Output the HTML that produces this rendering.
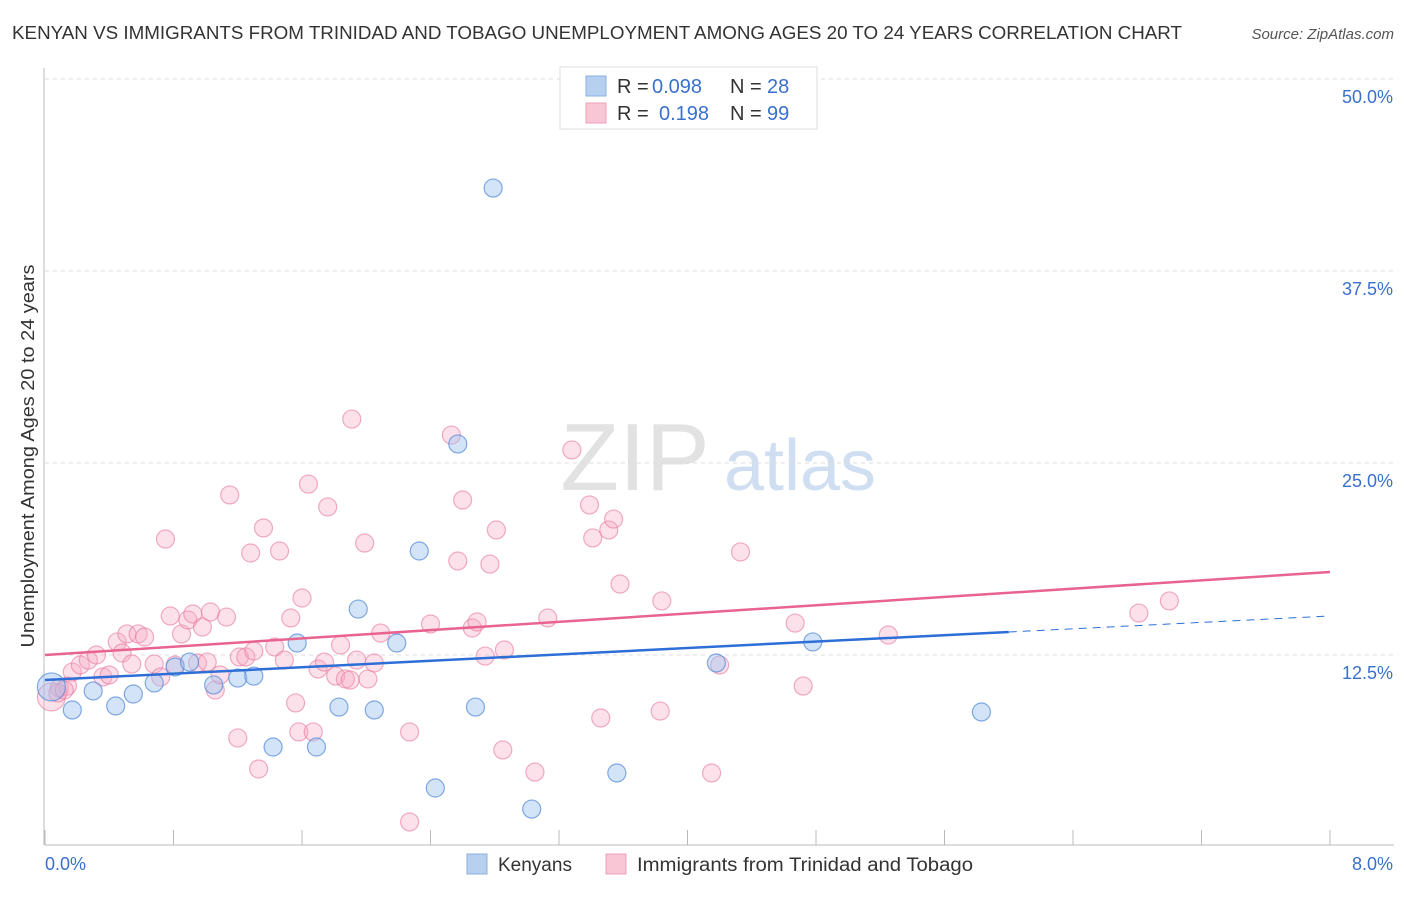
<!DOCTYPE html>
<html><head><meta charset="utf-8"><style>
body{margin:0;background:#fff;font-family:"Liberation Sans",sans-serif}
svg text{font-family:"Liberation Sans",sans-serif}
</style></head><body>
<svg id="chart" width="1406" height="892" xmlns="http://www.w3.org/2000/svg">
<text x="12" y="39" font-size="18" fill="#333" textLength="1170" lengthAdjust="spacingAndGlyphs">KENYAN VS IMMIGRANTS FROM TRINIDAD AND TOBAGO UNEMPLOYMENT AMONG AGES 20 TO 24 YEARS CORRELATION CHART</text>
<text x="1394" y="39" font-size="15" fill="#555" text-anchor="end" font-style="italic">Source: ZipAtlas.com</text>
<text transform="translate(34,456) rotate(-90)" font-size="18" fill="#333" text-anchor="middle" textLength="383" lengthAdjust="spacingAndGlyphs">Unemployment Among Ages 20 to 24 years</text>
<g><text x="635" y="490" font-size="96" fill="#e2e2e2" font-family="Liberation Serif" text-anchor="middle">ZIP</text><text x="800" y="490" font-size="72" fill="#d0def2" text-anchor="middle">atlas</text></g>
<g id="grid"></g><g id="axes"></g><g id="pts"></g><g id="lines"></g>
<g>
<rect x="560" y="67" width="257" height="62" fill="#fff" stroke="#ddd"/>
<rect x="586" y="76" width="20" height="20" fill="#b8d0f0" stroke="#8ab0e0"/>
<rect x="586" y="103" width="20" height="20" fill="#f9c6d6" stroke="#eea0b8"/>
<text x="617" y="93" font-size="20" fill="#333">R =</text><text x="652" y="93" font-size="20" fill="#3a70cc">0.098</text>
<text x="730" y="93" font-size="20" fill="#333">N =</text><text x="767" y="93" font-size="20" fill="#3a70cc">28</text>
<text x="617" y="120" font-size="20" fill="#333">R =</text><text x="659" y="120" font-size="20" fill="#3a70cc">0.198</text>
<text x="730" y="120" font-size="20" fill="#333">N =</text><text x="767" y="120" font-size="20" fill="#3a70cc">99</text>
</g>
<g>
<rect x="467" y="854" width="20" height="20" fill="#b8d0f0" stroke="#8ab0e0"/>
<text x="498" y="871" font-size="19" fill="#333">Kenyans</text>
<rect x="606" y="854" width="20" height="20" fill="#f9c6d6" stroke="#eea0b8"/>
<text x="637" y="871" font-size="19" fill="#333" textLength="336" lengthAdjust="spacingAndGlyphs">Immigrants from Trinidad and Tobago</text>
</g>
</svg>
<script>
const xTicks=[0,0.8,1.6,2.4,3.2,4,4.8,5.6,6.4,7.2,8];
const yTicks=[12.5,25,37.5,50];
const yTickLabels=["12.5%","25.0%","37.5%","50.0%"];
const blueX=[0.04,0.17,0.30,0.44,0.55,0.68,0.81,0.90,1.05,1.20,1.30,1.42,1.57,1.69,1.83,1.95,2.05,2.19,2.33,2.43,2.57,2.68,2.79,3.03,3.56,4.18,4.78,5.83];
const blueY=[10.42,8.92,10.16,9.18,9.96,10.68,11.72,12.04,10.55,11.0,11.13,6.51,13.28,6.51,9.11,15.49,8.92,13.28,19.27,3.84,26.24,9.11,42.9,2.47,4.82,11.98,13.35,8.79];
const pinkX=[0.04,0.09,0.14,0.17,0.22,0.27,0.32,0.36,0.40,0.45,0.48,0.51,0.54,0.58,0.62,0.68,0.72,0.75,0.78,0.81,0.85,0.89,0.92,0.95,0.98,1.01,1.03,1.06,1.09,1.13,1.15,1.20,1.21,1.25,1.28,1.30,1.33,1.36,1.43,1.46,1.49,1.53,1.56,1.58,1.60,1.64,1.67,1.70,1.74,1.76,1.81,1.84,1.87,1.90,1.91,1.94,1.99,2.01,2.05,2.09,2.27,2.27,2.40,2.53,2.57,2.60,2.66,2.69,2.74,2.77,2.81,2.85,2.86,3.05,3.13,3.28,3.39,3.41,3.46,3.51,3.54,3.58,3.83,3.84,4.15,4.20,4.33,4.67,4.72,5.25,6.81,7.0,0.08,0.12];
const pinkY=[9.77,10.35,10.48,11.39,11.85,12.17,12.5,11.07,11.2,13.35,12.63,13.87,11.91,13.87,13.67,11.91,11.07,20.05,15.04,11.85,13.87,14.78,15.17,11.98,14.32,12.04,15.3,10.22,11.2,14.97,22.92,7.1,12.37,12.37,19.14,12.76,5.08,20.77,13.02,19.27,12.17,14.91,9.38,7.49,16.21,23.63,7.49,11.59,12.04,22.14,11.13,13.15,10.94,10.87,27.86,12.17,19.79,10.94,11.98,13.93,1.63,7.49,14.52,26.82,18.62,22.59,14.26,14.65,12.43,18.42,20.64,6.32,12.83,4.88,14.91,25.85,22.27,20.12,8.4,20.64,21.35,17.12,8.85,16.02,4.82,11.85,19.21,14.58,10.48,13.8,15.23,16.02,10.03,10.22];
const blueTrend=[10.87,15.04];const pinkTrend=[12.5,17.9];const blueSolidEnd=6.0;
const NS="http://www.w3.org/2000/svg";
const sx=v=>45+v/8*1285, sy=v=>847-v/12.5*192;
function mk(t,a,p){const e=document.createElementNS(NS,t);for(const k in a)e.setAttribute(k,a[k]);p.appendChild(e);return e;}
const grid=document.getElementById('grid'),axes=document.getElementById('axes'),pts=document.getElementById('pts'),lines=document.getElementById('lines');
yTicks.forEach((v,i)=>{const l=mk('line',{x1:45,x2:1394,y1:sy(v),y2:sy(v),stroke:'#ddd','stroke-dasharray':'4 4'},grid);


const t=mk('text',{x:1393,y:sy(v)+24,'font-size':18,fill:'#3a70cc','text-anchor':'end'},grid);t.textContent=yTickLabels[i];

});
const ax=mk('line',{x1:45,x2:1394,y1:845,y2:845,stroke:'#bbb'},axes);


const ay=mk('line',{x1:44,x2:44,y1:68,y2:845,stroke:'#bbb'},axes);


xTicks.forEach(v=>{const l=mk('line',{x1:sx(v),x2:sx(v),y1:830,y2:845,stroke:'#bbb'},axes);

});
[["0.0%",45,'start'],["8.0%",1393,'end']].forEach(d=>{const t=mk('text',{x:d[1],y:870,'font-size':18,fill:'#3a70cc','text-anchor':d[2]},axes);t.textContent=d[0];

});
pinkX.forEach((x,i)=>{const c=mk('circle',{cx:sx(x),cy:sy(pinkY[i]),r:i==0?14:9,fill:'rgba(246,170,195,0.35)',stroke:'rgba(232,120,155,0.6)','stroke-width':1.2},pts);

});
blueX.forEach((x,i)=>{const c=mk('circle',{cx:sx(x),cy:sy(blueY[i]),r:i==0?14:9,fill:'rgba(160,195,240,0.45)',stroke:'rgba(80,135,215,0.7)','stroke-width':1.2},pts);

});
const bAt=x=>blueTrend[0]+(blueTrend[1]-blueTrend[0])*x/8;
const b1=mk('line',{x1:sx(0),y1:sy(bAt(0)),x2:sx(blueSolidEnd),y2:sy(bAt(blueSolidEnd)),stroke:'#2d6fd6','stroke-width':2.5},lines);


const b2=mk('line',{x1:sx(blueSolidEnd),y1:sy(bAt(blueSolidEnd)),x2:sx(8),y2:sy(bAt(8)),stroke:'#2d6fd6','stroke-width':1,'stroke-dasharray':'8 6'},lines);


const p1=mk('line',{x1:sx(0),y1:sy(pinkTrend[0]),x2:sx(8),y2:sy(pinkTrend[1]),stroke:'#e8648f','stroke-width':2.5},lines);


</script>
</body></html>
